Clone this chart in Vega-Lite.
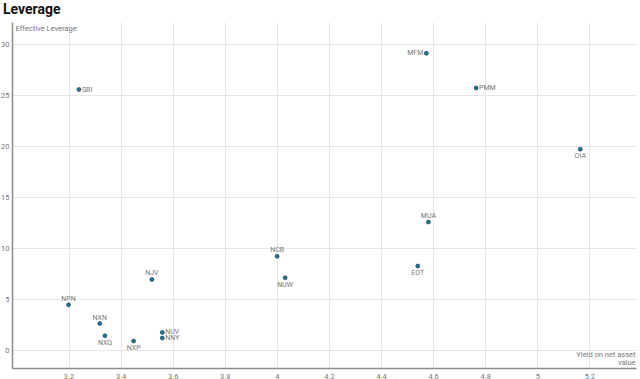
{
  "$schema": "https://vega.github.io/schema/vega-lite/v6.json",
  "width": 624,
  "height": 346,
  "autosize": "none",
  "padding": {"left": 12, "top": 22, "right": 4, "bottom": 11},
  "background": "white",
  "title": {
    "text": "Leverage",
    "anchor": "start",
    "frame": "group",
    "dx": -9,
    "offset": 5,
    "font": "Roboto",
    "fontSize": 14,
    "fontWeight": "bold",
    "color": "#111111"
  },
  "config": {
    "view": {"stroke": null},
    "font": "Roboto",
    "axis": {
      "gridColor": "#e6e6e6",
      "gridWidth": 1,
      "domainColor": "#8c8c8c",
      "domainWidth": 1.5,
      "ticks": false,
      "labelFont": "Roboto",
      "labelFontSize": 7.5,
      "labelColor": "#777777",
      "titleFont": "Roboto",
      "titleFontSize": 7.5,
      "titleFontWeight": "normal",
      "titleColor": "#777777"
    }
  },
  "data": {
    "values": [
      {"fund": "SBI", "yield": 3.24, "leverage": 25.55},
      {"fund": "MFM", "yield": 4.574, "leverage": 29.1},
      {"fund": "PMM", "yield": 4.765, "leverage": 25.7},
      {"fund": "OIA", "yield": 5.165, "leverage": 19.7},
      {"fund": "MUA", "yield": 4.582, "leverage": 12.55},
      {"fund": "EOT", "yield": 4.541, "leverage": 8.24},
      {"fund": "NCB", "yield": 4.001, "leverage": 9.2},
      {"fund": "NUW", "yield": 4.032, "leverage": 7.09},
      {"fund": "NJV", "yield": 3.52, "leverage": 6.92},
      {"fund": "NPN", "yield": 3.2, "leverage": 4.44},
      {"fund": "NXN", "yield": 3.32, "leverage": 2.6},
      {"fund": "NXQ", "yield": 3.34, "leverage": 1.4},
      {"fund": "NXP", "yield": 3.45, "leverage": 0.88},
      {"fund": "NUV", "yield": 3.56, "leverage": 1.73},
      {"fund": "NNY", "yield": 3.56, "leverage": 1.18}
    ]
  },
  "encoding": {
    "x": {
      "field": "yield",
      "type": "quantitative",
      "scale": {"domain": [2.983, 5.379], "nice": false, "zero": false},
      "axis": {
        "values": [3.2, 3.4, 3.6, 3.8, 4, 4.2, 4.4, 4.6, 4.8, 5, 5.2],
        "format": "~g",
        "labelPadding": 4,
        "title": ["Yield on net asset", "value"],
        "titleAlign": "right",
        "titleAnchor": "end",
        "titleX": 623,
        "titleY": -10,
        "titleBaseline": "bottom",
        "titleLineHeight": 8
      }
    },
    "y": {
      "field": "leverage",
      "type": "quantitative",
      "scale": {"domain": [-1.76, 32.17], "nice": false, "zero": false},
      "axis": {
        "values": [0, 5, 10, 15, 20, 25, 30],
        "labelPadding": 3,
        "title": "Effective Leverage",
        "titleAngle": 0,
        "titleAlign": "left",
        "titleBaseline": "top",
        "titleX": 3,
        "titleY": 2
      }
    }
  },
  "layer": [
    {
      "mark": {"type": "point", "filled": true, "size": 16, "color": "#1f7596", "stroke": "#17384a", "strokeWidth": 0.6, "opacity": 1}
    },
    {
      "transform": [{"filter": {"field": "fund", "oneOf": ["SBI", "PMM", "NUV", "NNY"]}}],
      "mark": {"type": "text", "align": "left", "baseline": "middle", "dx": 3, "fontSize": 7, "color": "#777777"},
      "encoding": {"text": {"field": "fund"}}
    },
    {
      "transform": [{"filter": {"field": "fund", "oneOf": ["MFM"]}}],
      "mark": {"type": "text", "align": "right", "baseline": "middle", "dx": -3, "fontSize": 7, "color": "#777777"},
      "encoding": {"text": {"field": "fund"}}
    },
    {
      "transform": [{"filter": {"field": "fund", "oneOf": ["MUA", "NCB", "NJV", "NPN", "NXN"]}}],
      "mark": {"type": "text", "align": "center", "baseline": "bottom", "dy": -3, "fontSize": 7, "color": "#777777"},
      "encoding": {"text": {"field": "fund"}}
    },
    {
      "transform": [{"filter": {"field": "fund", "oneOf": ["OIA", "EOT", "NUW", "NXQ", "NXP"]}}],
      "mark": {"type": "text", "align": "center", "baseline": "top", "dy": 3, "fontSize": 7, "color": "#777777"},
      "encoding": {"text": {"field": "fund"}}
    }
  ]
}
